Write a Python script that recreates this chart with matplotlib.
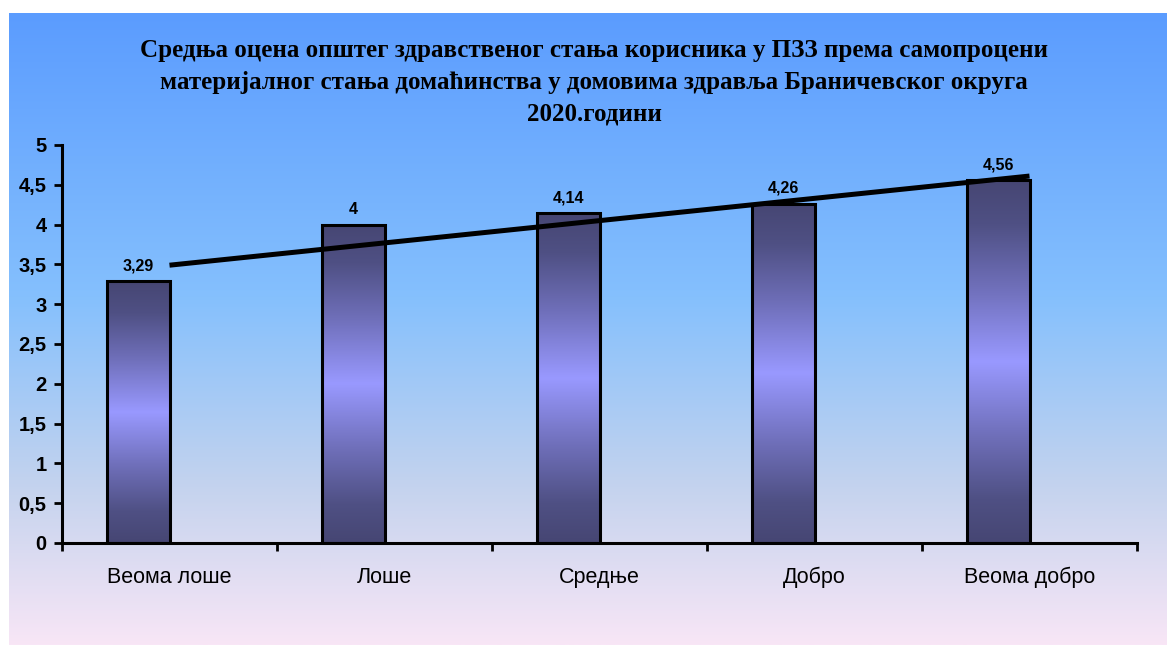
import numpy as np
import matplotlib.pyplot as plt
from matplotlib.colors import LinearSegmentedColormap
from matplotlib.transforms import blended_transform_factory

categories = ['Веома лоше', 'Лоше', 'Средње', 'Добро', 'Веома добро']
values = [3.29, 4.00, 4.14, 4.26, 4.56]
labels = ['3,29', '4', '4,14', '4,26', '4,56']
yticks = [0, 0.5, 1, 1.5, 2, 2.5, 3, 3.5, 4, 4.5, 5]
title = ('Средња оцена општег здравственог стања корисника у ПЗЗ према самопроцени\n'
         'материјалног стања домаћинства у домовима здравља Браничевског округа\n'
         '2020.години')

W, H = 1167, 645
fig = plt.figure(figsize=(W / 100, H / 100), dpi=100)
fig.patch.set_facecolor('white')

# background gradient panel
bg = fig.add_axes([9 / W, 0, 1 - 9 / W, 632 / H], zorder=0)
bg_cmap = LinearSegmentedColormap.from_list('bg', [
    (0.0, '#5b9cff'), (0.45, '#85c0fd'), (0.75, '#c4d3ee'), (1.0, '#f8e6f6')])
bg.imshow(np.linspace(0, 1, 256).reshape(-1, 1), aspect='auto', cmap=bg_cmap,
          extent=[0, 1, 0, 1], origin='upper')
bg.axis('off')

ax = fig.add_axes([62 / W, 1 - 543 / H, (1137 - 62) / W, (543 - 145) / H], zorder=1)
ax.patch.set_visible(False)

x = np.arange(len(values))
bar_w = 0.29
bar_cmap = LinearSegmentedColormap.from_list('bar', [
    (0.0, '#464673'), (0.12, '#4f5084'), (0.3, '#7070bb'), (0.5, '#9999ff'),
    (0.7, '#7070bb'), (0.88, '#4f5084'), (1.0, '#464673')])
bars = ax.bar(x, values, width=-bar_w, align='edge', facecolor='none',
              edgecolor='black', linewidth=2.2, zorder=3)
grad = np.linspace(0, 1, 256).reshape(-1, 1)
for b in bars:
    x0, y0 = b.get_x(), b.get_y()
    w, h = b.get_width(), b.get_height()
    im = ax.imshow(grad, aspect='auto', cmap=bar_cmap, origin='lower',
                   extent=[x0 + w, x0, y0, y0 + h], zorder=2)
    im.set_clip_path(b)

for b, lab in zip(bars, labels):
    ax.text(b.get_x() + b.get_width() / 2, b.get_height() + 0.1, lab,
            ha='center', va='bottom', fontsize=11.5, fontweight='bold',
            family='Liberation Sans')

# linear trend line
k, c = np.polyfit(x, values, 1)
ax.plot(x, k * x + c, color='black', linewidth=3.6, zorder=4,
        solid_capstyle='butt')

ax.set_xlim(-0.5, 4.5)
ax.set_ylim(0, 5)
ax.set_yticks(yticks)
ax.set_yticklabels([f'{v:g}'.replace('.', ',') for v in yticks],
                   fontweight='bold', family='Liberation Sans')
ax.tick_params(axis='y', labelsize=14.5, width=2, length=6, pad=5)

ax.set_xticks(np.arange(-0.5, 4.6, 1))
ax.set_xticklabels([])
ax.tick_params(axis='x', which='major', width=2, length=6)
trans = blended_transform_factory(ax.transData, ax.transAxes)
for xi, cat in zip(x, categories):
    ax.text(xi, -40 / 398, cat, transform=trans, ha='center', va='baseline',
            fontsize=15.5, family='Liberation Sans')

for s in ['top', 'right']:
    ax.spines[s].set_visible(False)
for s in ['left', 'bottom']:
    ax.spines[s].set_linewidth(2.2)

fig.text(594 / W, 1 - 82 / H, title, ha='center', va='center', fontsize=18,
         fontweight='bold', family='Liberation Serif', linespacing=1.5)

fig.savefig('out.png', dpi=100)
